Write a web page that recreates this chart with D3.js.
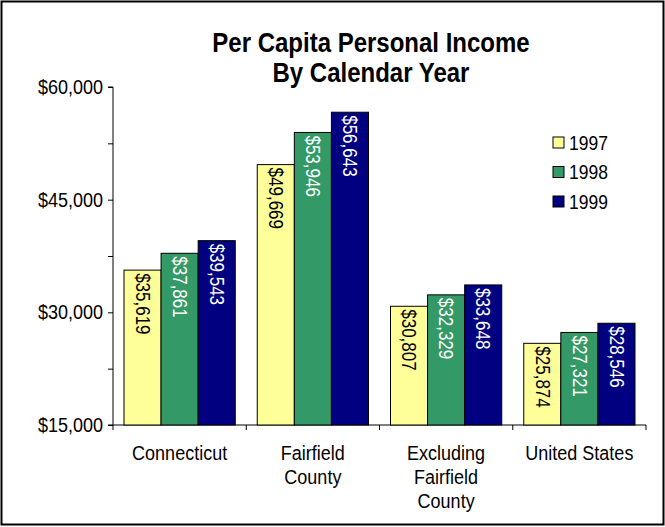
<!DOCTYPE html>
<html>
<head>
<meta charset="utf-8">
<script src="https://cdn.jsdelivr.net/npm/d3@7"></script>
<style>
  body { margin: 0; background: #fff; }
  svg { display: block; font-family: "Liberation Sans", Arial, sans-serif; }
  /* slightly tall letterforms */
  .tall { transform-box: fill-box; transform-origin: center; transform: scaleY(1.14); }
</style>
</head>
<body>
<svg id="chart" width="665" height="527"></svg>
<script>
// Regions and per capita personal income by year
const categories = [["Connecticut"], ["Fairfield", "County"], ["Excluding", "Fairfield", "County"], ["United States"]];
const years = ["1997", "1998", "1999"];
const income1997 = [35619, 49669, 30807, 25874];
const income1998 = [37861, 53946, 32329, 27321];
const income1999 = [39543, 56643, 33648, 28546];
const yTickValues = [15000, 30000, 45000, 60000];
const colors = ["#FFFF99", "#339966", "#000080"];
const labelColors = ["#000", "#fff", "#fff"];

const series = [income1997, income1998, income1999];

const svg = d3.select("#chart");
const W = 665, H = 527;

// Outer frame
svg.append("rect").attr("x", 1.5).attr("y", 1.5).attr("width", W - 3).attr("height", H - 4)
  .attr("fill", "#fff").attr("stroke", "#000").attr("stroke-width", 2);

// Title
[["Per Capita Personal Income", 51], ["By Calendar Year", 81]].forEach(([t, ty]) => {
  svg.append("text").attr("class", "tall").attr("text-anchor", "middle").attr("font-weight", "bold")
    .attr("font-size", 24).attr("fill", "#000").attr("x", 371).attr("y", ty).text(t);
});

const plot = { left: 113, right: 646, top: 87, bottom: 425 };

const x = d3.scaleBand().domain(d3.range(categories.length))
  .range([plot.left, plot.right]).paddingInner(0).paddingOuter(0);
const y = d3.scaleLinear().domain([15000, 60000]).range([plot.bottom, plot.top]);
const innerPad = 11;
const xs = d3.scaleBand().domain(d3.range(years.length))
  .range([innerPad, x.bandwidth() - innerPad]);

// Y axis: labeled major ticks and unlabeled minor ticks
const yAxis = d3.axisLeft(y).tickValues(d3.range(15000, 60001, 7500)).tickSize(5).tickPadding(5)
  .tickFormat(d => yTickValues.includes(d) ? d3.format("$,")(d) : "");
const ya = svg.append("g").attr("transform", `translate(${plot.left},0)`).call(yAxis);
ya.select(".domain").attr("stroke", "#000").attr("d", `M-5,${plot.top}H0V${plot.bottom}`);
ya.selectAll(".tick line").attr("stroke", "#000");
ya.selectAll(".tick text").attr("class", "tall").attr("font-size", 18).attr("fill", "#000")
  .attr("font-family", "Liberation Sans, Arial, sans-serif");

// X axis
const xAxisLine = svg.append("g");
xAxisLine.append("line").attr("x1", plot.left - 5).attr("x2", plot.right)
  .attr("y1", plot.bottom).attr("y2", plot.bottom).attr("stroke", "#000");
d3.range(categories.length + 1).forEach(i => {
  const px = plot.left + i * x.bandwidth();
  xAxisLine.append("line").attr("x1", px).attr("x2", px)
    .attr("y1", plot.bottom).attr("y2", plot.bottom + 5).attr("stroke", "#000");
});

// Bars
const groups = svg.append("g").selectAll("g").data(categories).join("g")
  .attr("transform", (d, i) => `translate(${x(i)},0)`);

groups.each(function (cat, ci) {
  const g = d3.select(this);
  series.forEach((vals, si) => {
    const v = vals[ci];
    const bx = xs(si), bw = xs.bandwidth();
    g.append("rect").attr("x", bx).attr("y", y(v)).attr("width", bw)
      .attr("height", y(15000) - y(v)).attr("fill", colors[si])
      .attr("stroke", "#000").attr("stroke-width", 1);
    g.append("g")
      .attr("transform", `translate(${bx + bw / 2},${y(v) + 3}) rotate(90)`)
      .append("text").attr("class", "tall")
      .attr("dy", "0.35em").attr("font-size", 17).attr("fill", labelColors[si])
      .text(d3.format("$,")(v));
  });
  // Category label
  cat.forEach((line, li) => {
    g.append("text").attr("class", "tall").attr("text-anchor", "middle")
      .attr("font-size", 18).attr("fill", "#000")
      .attr("x", x.bandwidth() / 2).attr("y", 459 + li * 24).text(line);
  });
});

// Legend
const legend = svg.append("g").selectAll("g").data(years).join("g")
  .attr("transform", (d, i) => `translate(553,${143 + i * 29.5})`);
legend.append("rect").attr("x", 0).attr("y", -6).attr("width", 11).attr("height", 11)
  .attr("fill", (d, i) => colors[i]).attr("stroke", "#000");
legend.append("text").attr("class", "tall").attr("x", 16).attr("y", 0).attr("dy", "0.35em")
  .attr("font-size", 17.5).attr("fill", "#000").text(d => d);
</script>
</body>
</html>
